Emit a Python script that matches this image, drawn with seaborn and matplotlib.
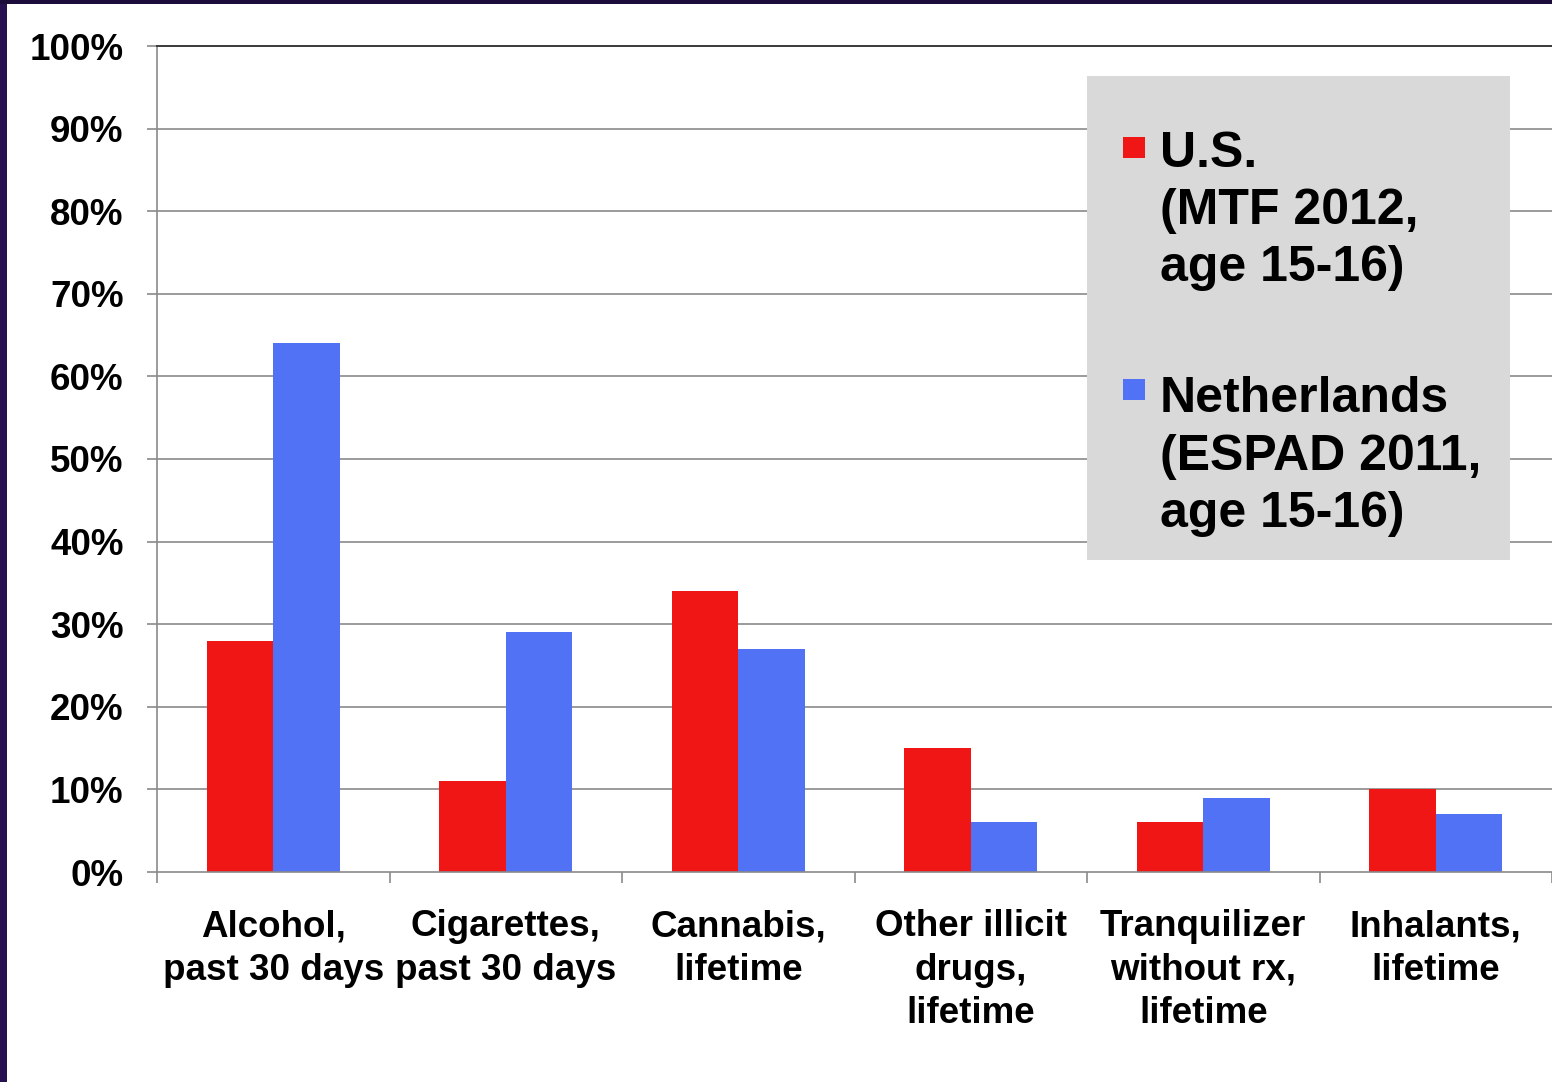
import matplotlib
matplotlib.use("Agg")
import matplotlib.pyplot as plt
from matplotlib.patches import Rectangle
from matplotlib.ticker import FixedLocator, PercentFormatter
import seaborn as sns
import pandas as pd

categories = [
    "Alcohol,\npast 30 days",
    "Cigarettes,\npast 30 days",
    "Cannabis,\nlifetime",
    "Other illicit\ndrugs,\nlifetime",
    "Tranquilizer\nwithout rx,\nlifetime",
    "Inhalants,\nlifetime",
]
us_values = [28, 11, 34, 15, 6, 10]
nl_values = [64, 29, 27, 6, 9, 7]
series_names = ["U.S.", "Netherlands"]
legend_labels = ["U.S.\n(MTF 2012,\nage 15-16)", "Netherlands\n(ESPAD 2011,\nage 15-16)"]
colors = ["#f01616", "#5272f5"]

df = pd.DataFrame({
    "category": categories * 2,
    "series": [series_names[0]] * len(categories) + [series_names[1]] * len(categories),
    "value": us_values + nl_values,
})

sns.set_theme(style="white")
plt.rcParams["font.family"] = ["Liberation Sans", "DejaVu Sans"]
plt.rcParams["font.weight"] = "bold"

fig = plt.figure(figsize=(15.52, 10.82), dpi=100)
fig.patch.set_facecolor("white")
ax = fig.add_axes([157 / 1552, 1 - 872 / 1082, 1 - 157 / 1552, (872 - 46) / 1082])

sns.barplot(data=df, x="category", y="value", hue="series", order=categories,
            hue_order=series_names, palette=colors, width=0.57, saturation=1,
            linewidth=0, legend=False, ax=ax)

ax.set_xlim(-0.5, len(categories) - 0.5)
ax.set_ylim(0, 100)
ax.set_xlabel("")
ax.set_ylabel("")

# horizontal grid
ax.set_yticks(range(0, 101, 10))
ax.yaxis.set_major_formatter(PercentFormatter(decimals=0))
for v in range(10, 100, 10):
    ax.axhline(v, color="#8a8a8a", lw=1.2, zorder=0)

for s in ["left", "bottom"]:
    ax.spines[s].set_color("#8a8a8a")
    ax.spines[s].set_linewidth(1.2)
ax.spines["top"].set_color("#3a3a3a")
ax.spines["top"].set_linewidth(1.4)
ax.spines["right"].set_visible(False)

ax.tick_params(axis="y", which="major", left=True, length=7, width=1.2,
               color="#8a8a8a", pad=17, labelsize=26.5)
ax.tick_params(axis="x", which="major", bottom=False, length=0, pad=27,
               labelsize=26.5)
for lab in ax.get_yticklabels() + ax.get_xticklabels():
    lab.set_fontweight("bold")
    lab.set_color("black")
for lab in ax.get_xticklabels():
    lab.set_linespacing(1.3)

# category boundary tick marks
ax.xaxis.set_minor_locator(FixedLocator([i - 0.5 for i in range(len(categories) + 1)]))
ax.tick_params(axis="x", which="minor", bottom=True, length=8, width=1.2, color="#8a8a8a")

# legend panel
ax.add_patch(Rectangle((0.667, 0.378), 0.303, 0.586, transform=ax.transAxes,
                       facecolor="#d9d9d9", edgecolor="none", zorder=4, clip_on=False))
sq_y = [0.864, 0.571]
txt_y = [0.897, 0.600]
for c, lab, sy, ty in zip(colors, legend_labels, sq_y, txt_y):
    ax.add_patch(Rectangle((0.6925, sy), 0.0155, 0.026, transform=ax.transAxes,
                           facecolor=c, edgecolor="none", zorder=5))
    ax.text(0.719, ty, lab, transform=ax.transAxes, ha="left", va="top",
            fontsize=36, fontweight="bold", color="black", linespacing=1.31, zorder=6)

# slide frame
fig.patches.append(Rectangle((0, 0), 7 / 1552, 1, transform=fig.transFigure,
                             facecolor="#26104f", edgecolor="none", zorder=10))
fig.patches.append(Rectangle((0, 1 - 4 / 1082), 1, 4 / 1082, transform=fig.transFigure,
                             facecolor="#1c0c3c", edgecolor="none", zorder=10))

fig.savefig("out.png", dpi=100, facecolor="white")
